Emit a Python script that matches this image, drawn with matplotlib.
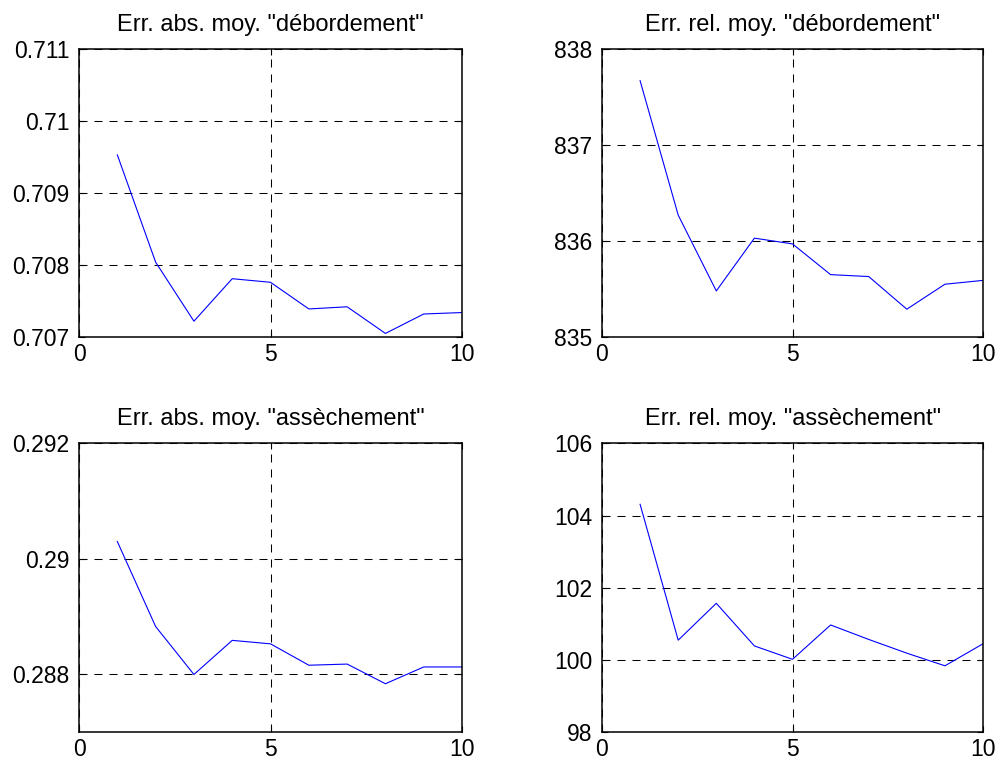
import matplotlib
matplotlib.use("Agg")
import matplotlib.pyplot as plt
from matplotlib.ticker import FuncFormatter

plt.rcParams["font.family"] = ["Liberation Sans", "DejaVu Sans"]

# ── Data ──────────────────────────────────────────────────────────────────────
iterations = [1, 2, 3, 4, 5, 6, 7, 8, 9, 10]

abs_debordement = [0.70953, 0.70804, 0.70722, 0.70781, 0.70776,
                   0.70739, 0.70742, 0.70705, 0.70732, 0.70734]
rel_debordement = [837.67, 836.27, 835.48, 836.03, 835.97,
                   835.65, 835.63, 835.29, 835.55, 835.59]
abs_assechement = [0.29030, 0.28883, 0.28800, 0.28859, 0.28853,
                   0.28816, 0.28818, 0.28784, 0.28813, 0.28813]
rel_assechement = [104.31, 100.55, 101.57, 100.39, 100.02,
                   100.97, 100.57, 100.19, 99.84, 100.45]

titles = ['Err. abs. moy. "débordement"', 'Err. rel. moy. "débordement"',
          'Err. abs. moy. "assèchement"', 'Err. rel. moy. "assèchement"']
x_ticks = [0, 5, 10]
y_ticks = [
    [0.707, 0.708, 0.709, 0.710, 0.711],
    [835, 836, 837, 838],
    [0.288, 0.290, 0.292],
    [98, 100, 102, 104, 106],
]
y_lims = [(0.707, 0.711), (835, 838), (0.287, 0.292), (98, 106)]

# ── Layout (MATLAB-like 2x2) ──────────────────────────────────────────────────
fig = plt.figure(figsize=(9.99, 7.62), dpi=100)
fig.patch.set_facecolor("white")
positions = [
    [0.0791, 0.5577, 0.3834, 0.3780],
    [0.6026, 0.5577, 0.3814, 0.3780],
    [0.0791, 0.0390, 0.3834, 0.3793],
    [0.6026, 0.0390, 0.3814, 0.3793],
]
series = [abs_debordement, rel_debordement, abs_assechement, rel_assechement]

fmt = FuncFormatter(lambda v, _: "%g" % round(v, 6))

for pos, ys, title, yt, yl in zip(positions, series, titles, y_ticks, y_lims):
    ax = fig.add_axes(pos)
    ax.plot(iterations, ys, color="#0000FF", lw=0.8)
    ax.set_xlim(0, 10)
    ax.set_ylim(*yl)
    ax.set_xticks(x_ticks)
    ax.set_yticks(yt)
    ax.yaxis.set_major_formatter(fmt)
    ax.xaxis.set_major_formatter(fmt)
    ax.grid(True, color="black", lw=0.75, linestyle=(0, (7.7, 6.7)))
    ax.tick_params(direction="in", length=4, width=0.8, labelsize=16.5,
                   top=True, right=True)
    ax.tick_params(axis="y", pad=7)
    ax.tick_params(axis="x", pad=4)
    for sp in ax.spines.values():
        sp.set_linewidth(1.1)
        sp.set_color("black")
    ax.set_title(title, fontsize=17, pad=13)

plt.savefig("out.png", dpi=100, facecolor="white")
plt.close(fig)
